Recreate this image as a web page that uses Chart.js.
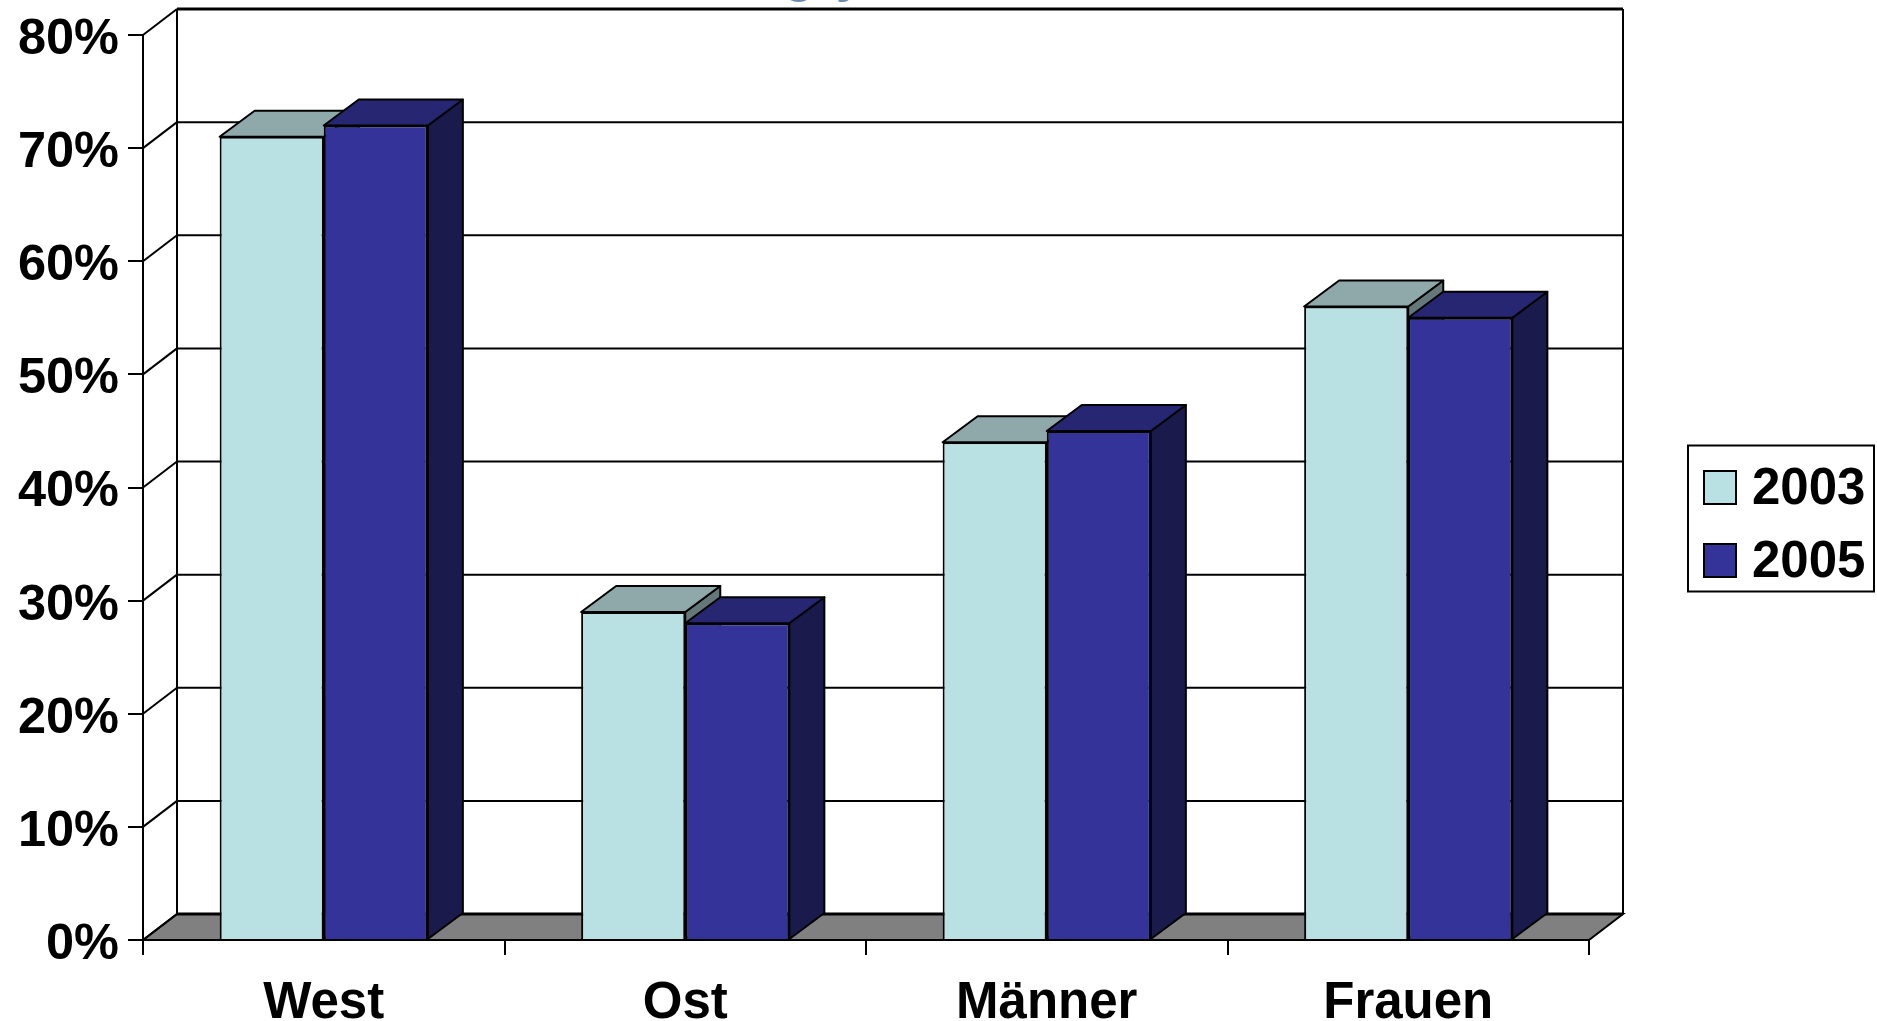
<!DOCTYPE html>
<html lang="de">
<head>
<meta charset="utf-8">
<title>Anteile 2003 und 2005</title>
<script src="https://cdn.jsdelivr.net/npm/chart.js@4/dist/chart.umd.min.js"></script>
<style>
    html, body { margin: 0; padding: 0; background: #fff; overflow: hidden; }
    #wrap { position: relative; width: 1877px; height: 1021px; }
</style>
</head>
<body>
<div id="wrap"><canvas id="chart" width="1877" height="1021"></canvas></div>
<script>
const categories = ['West', 'Ost', 'Männer', 'Frauen'];
const years = ['2003', '2005'];
const values2003 = [71, 29, 44, 56];
const values2005 = [72, 28, 45, 55];
const yMax = 80;
const yStep = 10;

const frontColors = ['#b9e0e3', '#333399'];
const topColors = ['#8fa8aa', '#262673'];
const sideColors = ['#64787a', '#1a1a4d'];
const floorColor = '#808080';

// depth of the fake 3D box
const wallDx = 34;
const wallDy = 26;
const barDx = 35;
const barDy = 26;
const FAMILY = '"Liberation Sans", Arial, sans-serif';
const FONT = 'bold 51px ' + FAMILY;

function poly(ctx, pts, fill) {
    ctx.beginPath();
    pts.forEach((p, i) => i ? ctx.lineTo(p[0], p[1]) : ctx.moveTo(p[0], p[1]));
    ctx.closePath();
    if (fill) { ctx.fillStyle = fill; ctx.fill(); }
    ctx.stroke();
}

// back wall, floor and the diagonals that tie the ticks to the wall
const boxPlugin = {
    id: 'box',
    beforeDatasetsDraw(chart) {
        const { ctx, chartArea: a, scales: { y } } = chart;
        ctx.save();
        ctx.strokeStyle = '#000';
        ctx.lineWidth = 2;
        poly(ctx, [[a.left, a.bottom], [a.left + wallDx, a.bottom - wallDy],
            [a.right + wallDx, a.bottom - wallDy], [a.right, a.bottom]], floorColor);
        for (let v = 0; v <= yMax; v += yStep) {
            const py = y.getPixelForValue(v);
            ctx.lineWidth = (v === 0 || v === yMax) ? 3 : 2;
            ctx.beginPath();
            ctx.moveTo(a.left + wallDx, py - wallDy);
            ctx.lineTo(a.right + wallDx, py - wallDy);
            ctx.stroke();
            ctx.lineWidth = 2;
            ctx.beginPath();
            ctx.moveTo(a.left, py);
            ctx.lineTo(a.left + wallDx, py - wallDy);
            ctx.stroke();
        }
        ctx.beginPath();
        ctx.moveTo(a.left + wallDx, a.top - wallDy);
        ctx.lineTo(a.left + wallDx, a.bottom - wallDy);
        ctx.moveTo(a.right + wallDx, a.top - wallDy);
        ctx.lineTo(a.right + wallDx, a.bottom - wallDy);
        ctx.stroke();

        // tops and right sides of the bars, the fronts come from the bar elements
        ctx.lineJoin = 'round';
        chart.data.datasets.forEach((ds, i) => {
            chart.getDatasetMeta(i).data.forEach(bar => {
                const l = bar.x - bar.width / 2;
                const r = bar.x + bar.width / 2;
                const t = bar.y;
                const b = bar.base;
                poly(ctx, [[r, t], [r + barDx, t - barDy], [r + barDx, b - barDy], [r, b]], sideColors[i]);
                poly(ctx, [[l, t], [l + barDx, t - barDy], [r + barDx, t - barDy], [r, t]], topColors[i]);
            });
        });
        ctx.restore();
    }
};

// legend box beside the plot, plus the tails of the heading cut off by the top edge
const legendBox = {
    id: 'legendBox',
    afterDraw(chart) {
        const { ctx } = chart;
        ctx.save();
        ctx.strokeStyle = '#000';
        ctx.lineWidth = 2;
        ctx.fillStyle = '#fff';
        ctx.fillRect(1688, 445.5, 186, 146);
        ctx.strokeRect(1688, 445.5, 186, 146);
        chart.data.datasets.forEach((ds, i) => {
            const rowY = 471 + i * 73;
            ctx.fillStyle = ds.backgroundColor;
            ctx.fillRect(1704, rowY, 32, 33);
            ctx.strokeRect(1704, rowY, 32, 33);
            ctx.fillStyle = '#000';
            ctx.font = FONT;
            ctx.textAlign = 'left';
            ctx.textBaseline = 'middle';
            ctx.fillText(ds.label, 1752, rowY + 19);
        });
        ctx.fillStyle = '#6a8caf';
        ctx.font = 'bold 50px ' + FAMILY;
        ctx.textAlign = 'left';
        ctx.textBaseline = 'alphabetic';
        ctx.fillText('g', 784, -8);
        ctx.fillText('y', 836, -8);
        ctx.restore();
    }
};

new Chart(document.getElementById('chart'), {
    type: 'bar',
    data: {
        labels: categories,
        datasets: [
            { label: years[0], data: values2003, backgroundColor: frontColors[0] },
            { label: years[1], data: values2005, backgroundColor: frontColors[1] }
        ].map(ds => ({ ...ds, borderColor: '#000', borderWidth: 2, barPercentage: 1, categoryPercentage: 0.576 }))
    },
    plugins: [boxPlugin, legendBox],
    options: {
        responsive: false,
        animation: false,
        layout: { padding: { top: 35, right: 288, left: 0, bottom: 0 } },
        plugins: { legend: { display: false }, tooltip: { enabled: false }, title: { display: false } },
        scales: {
            x: {
                afterFit(s) { s.height = 81; s.paddingLeft = 0; s.paddingRight = 0; },
                grid: { drawOnChartArea: false, color: '#000', lineWidth: 2, tickLength: 15 },
                border: { display: true, color: '#000', width: 2 },
                ticks: { color: '#000', font: { family: FAMILY, size: 51, weight: 'bold' }, padding: 18, maxRotation: 0 }
            },
            y: {
                min: 0,
                max: yMax,
                afterFit(s) { s.width = 143; s.paddingTop = 0; s.paddingBottom = 0; },
                grid: { drawOnChartArea: false, color: '#000', lineWidth: 2, tickLength: 15 },
                border: { display: true, color: '#000', width: 2 },
                ticks: {
                    stepSize: yStep,
                    color: '#000',
                    padding: 9,
                    labelOffset: 5,
                    font: { family: FAMILY, size: 50.5, weight: 'bold' },
                    callback: v => v + '%'
                }
            }
        }
    }
});
</script>
</body>
</html>
